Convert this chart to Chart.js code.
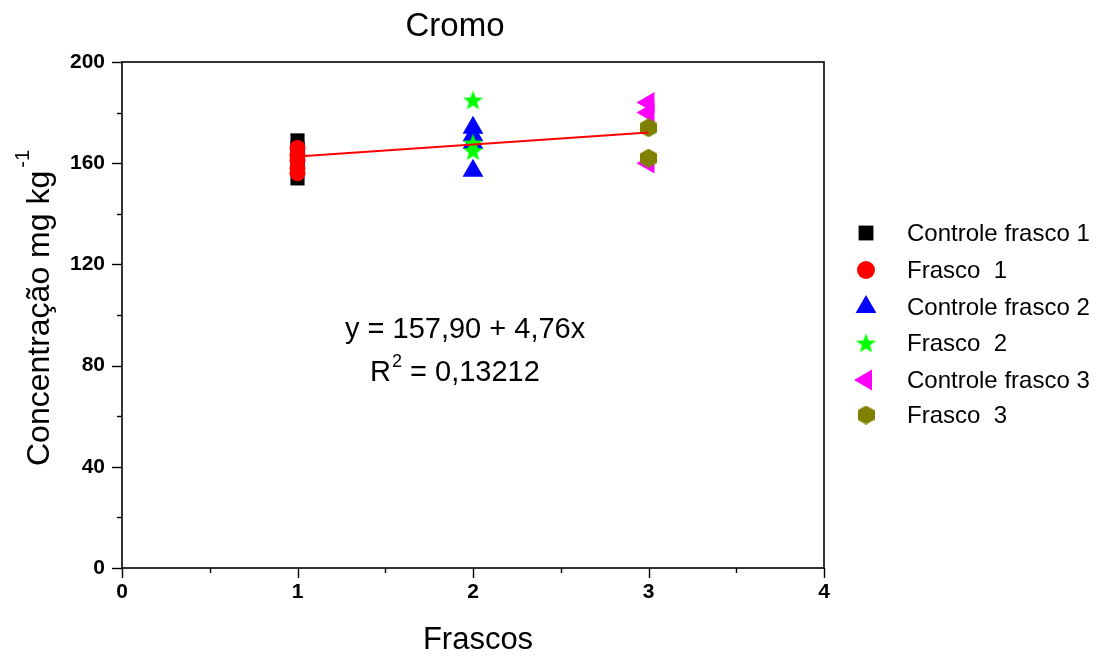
<!DOCTYPE html>
<html><head><meta charset="utf-8">
<script src="https://cdn.jsdelivr.net/npm/chart.js@4/dist/chart.umd.min.js"></script>
<style>html,body{margin:0;padding:0;background:#fff}canvas{display:block}</style>
</head><body>
<canvas id="c" width="1102" height="656"></canvas>
<script>
// ---- data ----
const seriesNames = ['Controle frasco 1','Frasco  1','Controle frasco 2','Frasco  2','Controle frasco 3','Frasco  3'];
const ctrl1X = [1,1,1,1,1];
const ctrl1Y = [169,166,162,158,154];
const frasco1X = [1,1,1,1,1];
const frasco1Y = [166,163,161,158,156];
const ctrl2X = [2,2,2,2];
const ctrl2Y = [174,171,168,157];
const frasco2X = [2,2,2];
const frasco2Y = [185,168,165];
const ctrl3X = [3,3,3];
const ctrl3Y = [184,180,160];
const frasco3X = [3,3];
const frasco3Y = [174,162];
const fitX = [1,3];
const fitY = [162.66,172.18];
const xTicksMajor = [0,1,2,3,4];
const yTicksMajor = [0,40,80,120,160,200];
const titleText = 'Cromo';
const xTitle = 'Frascos';
const yTitle = 'Concentração mg kg';
const eqLine1 = 'y = 157,90 + 4,76x';
const eqR = 'R';
const eqSup = '2';
const eqRest = ' = 0,13212';

const FONT = '"Liberation Sans", Arial, sans-serif';

function makeStar(size, color){
  const c=document.createElement('canvas'); c.width=size; c.height=size;
  const g=c.getContext('2d'); const R=size/2, r=R*0.42;
  g.fillStyle=color; g.beginPath();
  for(let i=0;i<10;i++){
    const a=-Math.PI/2+i*Math.PI/5; const rr=i%2?r:R;
    const px=R+rr*Math.cos(a), py=R+rr*Math.sin(a)+1;
    i?g.lineTo(px,py):g.moveTo(px,py);
  }
  g.closePath(); g.fill(); return c;
}
function makeHex(w,h,color){
  const c=document.createElement('canvas'); c.width=w; c.height=h;
  const g=c.getContext('2d'); g.fillStyle=color; g.beginPath();
  g.moveTo(w/2,0); g.lineTo(w,h*0.25); g.lineTo(w,h*0.75); g.lineTo(w/2,h);
  g.lineTo(0,h*0.75); g.lineTo(0,h*0.25); g.closePath(); g.fill(); return c;
}
const starImg = makeStar(21,'#00ff00');
const hexImg = makeHex(17,19,'#808000');
const starLeg = makeStar(21,'#00ff00');
const hexLeg = makeHex(17,19,'#808000');

function pts(xs,ys){ return xs.map((x,i)=>({x:x,y:ys[i]})); }

const styles = [
  {pointStyle:'rect', radius:10, rotation:0, color:'#000000'},
  {pointStyle:'circle', radius:8, rotation:0, color:'#ff0000'},
  {pointStyle:'triangle', radius:12, rotation:0, color:'#0000ff'},
  {pointStyle:starImg, radius:10, rotation:0, color:'#00ff00'},
  {pointStyle:'triangle', radius:12, rotation:-90, color:'#ff00ff'},
  {pointStyle:hexImg, radius:9, rotation:0, color:'#808000'}
];
const legStyles = [
  {pointStyle:'rect', radius:10.5, rotation:0, color:'#000000'},
  {pointStyle:'circle', radius:9, rotation:0, color:'#ff0000'},
  {pointStyle:'triangle', radius:12, rotation:0, color:'#0000ff'},
  {pointStyle:starLeg, radius:10, rotation:0, color:'#00ff00'},
  {pointStyle:'triangle', radius:12, rotation:-90, color:'#ff00ff'},
  {pointStyle:hexLeg, radius:9, rotation:0, color:'#808000'}
];
const dataSets = [pts(ctrl1X,ctrl1Y),pts(frasco1X,frasco1Y),pts(ctrl2X,ctrl2Y),pts(frasco2X,frasco2Y),pts(ctrl3X,ctrl3Y),pts(frasco3X,frasco3Y)];

const datasets = dataSets.map((d,i)=>({
  label: seriesNames[i], data: d, showLine:false,
  pointStyle: styles[i].pointStyle, pointRadius: styles[i].radius, pointRotation: styles[i].rotation,
  backgroundColor: styles[i].color, borderColor: styles[i].color, borderWidth: 0,
  order: 10-i
}));
datasets.push({label:'fit', data: pts(fitX,fitY), showLine:true, borderColor:'#ff0000', borderWidth:2, pointRadius:0, order:0});

const decor = {
  id:'decor',
  afterDraw(chart){
    const ctx=chart.ctx, a=chart.chartArea, xs=chart.scales.x, ys=chart.scales.y;
    ctx.save();
    ctx.strokeStyle='#000'; ctx.lineWidth=1.6;
    ctx.strokeRect(a.left,a.top,a.right-a.left,a.bottom-a.top);
    ctx.lineWidth=1.4;
    for(let v=0; v<=4.001; v+=0.5){
      const px=Math.round(xs.getPixelForValue(v))+0.5;
      const len = (Math.abs(v-Math.round(v))<1e-6)?10:5;
      ctx.beginPath(); ctx.moveTo(px,a.bottom); ctx.lineTo(px,a.bottom+len); ctx.stroke();
    }
    for(let v=0; v<=200.001; v+=20){
      const py=Math.round(ys.getPixelForValue(v))+0.5;
      const len = (v%40===0)?10:5;
      ctx.beginPath(); ctx.moveTo(a.left,py); ctx.lineTo(a.left-len,py); ctx.stroke();
    }
    ctx.fillStyle='#000';
    ctx.textAlign='center'; ctx.textBaseline='middle';
    ctx.font='33px '+FONT;
    ctx.fillText(titleText,455,27);
    ctx.font='31px '+FONT;
    ctx.fillText(xTitle,478,640);
    // y title
    ctx.save(); ctx.translate(40,308); ctx.rotate(-Math.PI/2);
    ctx.font='32px '+FONT;
    const w=ctx.measureText(yTitle).width; ctx.font='20px '+FONT; const sw=ctx.measureText('-1').width;
    const start=-(w+sw+3)/2;
    ctx.font='32px '+FONT; ctx.textAlign='left'; ctx.fillText(yTitle,start,0);
    ctx.font='20px '+FONT; ctx.fillText('-1',start+w+3,-17);
    ctx.restore();
    // equation
    ctx.font='29px '+FONT; ctx.textAlign='left';
    ctx.fillText(eqLine1,345,330);
    let x0=370;
    ctx.fillText(eqR,x0,373); x0+=ctx.measureText(eqR).width+1;
    ctx.font='18px '+FONT; ctx.fillText(eqSup,x0,362); x0+=ctx.measureText(eqSup).width;
    ctx.font='29px '+FONT; ctx.fillText(eqRest,x0,373);
    // legend
    const rowsY=[233,270,307,343,380,415];
    seriesNames.forEach((n,i)=>{
      const s=legStyles[i];
      ctx.fillStyle=s.color; ctx.strokeStyle=s.color;
      Chart.helpers.drawPoint(ctx,{pointStyle:s.pointStyle,radius:s.radius,rotation:s.rotation,borderWidth:0},866,rowsY[i]);
      ctx.fillStyle='#000'; ctx.font='24px '+FONT; ctx.textAlign='left'; ctx.textBaseline='middle';
      ctx.fillText(n,907,rowsY[i]+1);
    });
    ctx.restore();
  }
};

new Chart(document.getElementById('c'),{
  type:'scatter',
  data:{datasets:datasets},
  options:{
    responsive:false, animation:false, devicePixelRatio:1,
    layout:{padding:{left:0,top:62,right:278,bottom:0}},
    plugins:{legend:{display:false},tooltip:{enabled:false}},
    scales:{
      x:{type:'linear',min:0,max:4,
        afterFit(s){s.height=88;},
        afterBuildTicks(s){s.ticks=xTicksMajor.map(v=>({value:v}));},
        grid:{display:false,drawTicks:false},border:{display:false},
        ticks:{padding:12,autoSkip:false,maxRotation:0,color:'#000',font:{family:FONT,size:21,weight:'bold'}}},
      y:{type:'linear',min:0,max:200,
        afterFit(s){s.width=122;},
        afterBuildTicks(s){s.ticks=yTicksMajor.map(v=>({value:v}));},
        grid:{display:false,drawTicks:false},border:{display:false},
        ticks:{padding:17,autoSkip:false,color:'#000',font:{family:FONT,size:21,weight:'bold'}}}
    }
  },
  plugins:[decor]
});
</script>
</body></html>
